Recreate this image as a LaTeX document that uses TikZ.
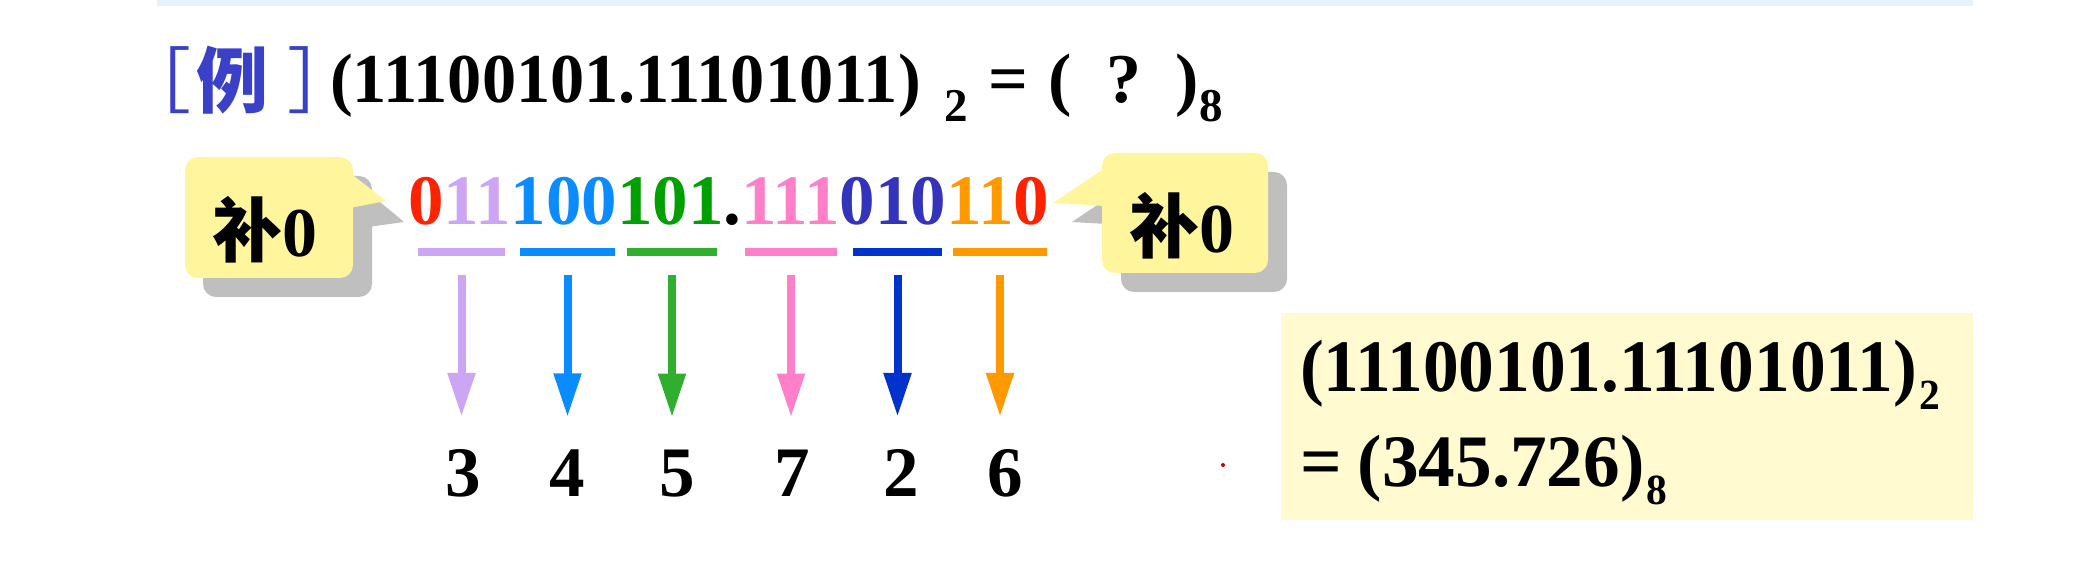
\documentclass[tikz,border=0pt]{standalone}
\usepackage{fontspec}
\usetikzlibrary{arrows.meta}
\setmainfont{Liberation Serif}
\newfontfamily\tnrA[FakeStretch=0.977]{Liberation Serif}
\newfontfamily\tnrB[FakeStretch=0.965]{Liberation Serif}
\newfontfamily\tnrC[FakeStretch=0.99]{Liberation Serif}
\newfontfamily\cjk{Noto Sans CJK SC}
\definecolor{cred}{HTML}{FF2200}
\definecolor{clav}{HTML}{CCA6F5}
\definecolor{cblue}{HTML}{0A8CFF}
\definecolor{cgreenT}{HTML}{00A000}
\definecolor{cgreen}{HTML}{2EB02E}
\definecolor{cpink}{HTML}{FF80C8}
\definecolor{cdblueT}{HTML}{3333BB}
\definecolor{cdblue}{HTML}{0033CC}
\definecolor{corange}{HTML}{FF9900}
\definecolor{ctitle}{HTML}{3A40C8}
\definecolor{callc}{HTML}{FFF59D}
\definecolor{shadc}{HTML}{BFBFBF}
\definecolor{resc}{HTML}{FFFAD0}
\definecolor{stripc}{HTML}{E6F2FC}
\begin{document}
\begin{tikzpicture}[x=0.5pt,y=-0.5pt,
  txt/.style={inner sep=0pt, outer sep=0pt},
  big/.style={txt, font=\bfseries\fontsize{35.5}{40}\selectfont},
  ubar/.style={inner sep=0pt, minimum height=4pt},
  arr/.style={line width=4pt, -{Triangle[length=22pt 0 0, width=13pt 0 0]}, shorten <=9.5pt, shorten >=16.5pt}]
\useasboundingbox (0,0) rectangle (2090,571);
% top strip
\fill[stripc] (157,0) rectangle (1973,6);
% title
\node[txt, anchor=base west, text=ctitle, font=\cjk\fontsize{36}{40}\selectfont] (tb1) at (119,108) {［};
\node[txt, anchor=base west, text=ctitle, font=\cjk\bfseries\fontsize{36}{40}\selectfont] (tex) at (196,108) {例};
\node[txt, anchor=base west, text=ctitle, font=\cjk\fontsize{36}{40}\selectfont] (tb2) at (287,108) {］};
\node[txt, anchor=base west, font=\tnrA\bfseries\fontsize{35}{40}\selectfont] (t1) at (330,103) {(11100101.11101011)};
\node[txt, anchor=base west, font=\bfseries\fontsize{23.5}{26}\selectfont] (t2) at (944,122) {2};
\node[txt, anchor=base, font=\bfseries\fontsize{35}{40}\selectfont] (t3) at (1008,103) {=};
\node[txt, anchor=base, font=\bfseries\fontsize{35}{40}\selectfont] (t4) at (1060,103) {(};
\node[txt, anchor=base, font=\bfseries\fontsize{35}{40}\selectfont] (t5) at (1124,103) {?};
\node[txt, anchor=base, font=\bfseries\fontsize{35}{40}\selectfont] (t6) at (1187,103) {)};
\node[txt, anchor=base, font=\bfseries\fontsize{23.5}{26}\selectfont] (t7) at (1211,122) {8};
% callout left
\fill[shadc, rounded corners=6.5pt] (203,176) rectangle (372,297);
\fill[shadc] (368,192) -- (404,222) -- (368,227) -- cycle;
\fill[callc, rounded corners=6.5pt] (185,157) rectangle (353,278);
\fill[callc] (350,173) -- (386,201) -- (350,208) -- cycle;
\node[txt, anchor=base, font=\fontsize{35}{40}\selectfont] (cl) at (265,257) {{\cjk\bfseries 补}{\bfseries 0}};
% callout right
\fill[shadc, rounded corners=6.5pt] (1121,172) rectangle (1287,292);
\fill[shadc] (1124,187) -- (1072,222) -- (1124,225) -- cycle;
\fill[callc, rounded corners=6.5pt] (1102,153) rectangle (1268,273);
\fill[callc] (1105,168) -- (1053,203) -- (1105,206) -- cycle;
\node[txt, anchor=base, font=\fontsize{35}{40}\selectfont] (cr) at (1182,253) {{\cjk\bfseries 补}{\bfseries 0}};
% binary row
\node[big, anchor=base west] (bin) at (408,225) {\textcolor{cred}{0}\textcolor{clav}{11}\textcolor{cblue}{100}\textcolor{cgreenT}{101}.\textcolor{cpink}{111}\textcolor{cdblueT}{010}\textcolor{corange}{11}\textcolor{cred}{0}};
% underlines
\node[ubar, fill=clav, minimum width=43.5pt] (u1) at (461.5,252) {};
\node[ubar, fill=cblue, minimum width=47.5pt] (u2) at (567.5,252) {};
\node[ubar, fill=cgreen, minimum width=45pt] (u3) at (672,252) {};
\node[ubar, fill=cpink, minimum width=46pt] (u4) at (791,252) {};
\node[ubar, fill=cdblue, minimum width=44.5pt] (u5) at (897.5,252) {};
\node[ubar, fill=corange, minimum width=47pt] (u6) at (1000,252) {};
% octal digits
\node[big, anchor=base] (d1) at (463,497) {3};
\node[big, anchor=base] (d2) at (567,497) {4};
\node[big, anchor=base] (d3) at (677,497) {5};
\node[big, anchor=base] (d4) at (792,497) {7};
\node[big, anchor=base] (d5) at (901,497) {2};
\node[big, anchor=base] (d6) at (1005,497) {6};
% arrows
\draw[arr, clav] (u1.south) -- (u1.south |- d1.north);
\draw[arr, cblue] (u2.south) -- (u2.south |- d2.north);
\draw[arr, cgreen] (u3.south) -- (u3.south |- d3.north);
\draw[arr, cpink] (u4.south) -- (u4.south |- d4.north);
\draw[arr, cdblue] (u5.south) -- (u5.south |- d5.north);
\draw[arr, corange] (u6.south) -- (u6.south |- d6.north);
% small red dot
\fill[red!80!black] (1223,465) circle (1pt);
% result box
\fill[resc] (1281,313) rectangle (1973,520);
\node[txt, anchor=base west, font=\tnrB\bfseries\fontsize{37}{42}\selectfont] (r1) at (1300,392) {(11100101.11101011)};
\node[txt, anchor=base west, font=\tnrB\bfseries\fontsize{21.5}{24}\selectfont] (r1s) at ([xshift=1pt,yshift=-9pt]r1.base east) {2};
\node[txt, anchor=base west, font=\tnrC\bfseries\fontsize{37}{42}\selectfont] (r2) at (1300,487) {=\hspace{8pt}(345.726)};
\node[txt, anchor=base west, font=\tnrB\bfseries\fontsize{21.5}{24}\selectfont] (r2s) at ([xshift=1pt,yshift=-9pt]r2.base east) {8};
\end{tikzpicture}
\end{document}
